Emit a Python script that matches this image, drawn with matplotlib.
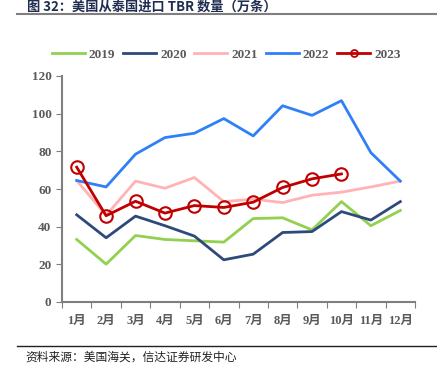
import matplotlib
matplotlib.use("Agg")
import matplotlib.pyplot as plt
from matplotlib.lines import Line2D

# data
months = ["1月", "2月", "3月", "4月", "5月", "6月", "7月", "8月", "9月", "10月", "11月", "12月"]
v2019 = [33.2, 20.1, 35.3, 33.2, 32.5, 31.8, 44.3, 44.7, 38.3, 53.3, 40.5, 48.6]
v2020 = [46.3, 34.1, 45.6, 40.5, 35.0, 22.4, 25.4, 36.9, 37.4, 48.0, 43.5, 53.3]
v2021 = [64.5, 46.0, 64.2, 60.4, 66.1, 53.3, 54.6, 52.8, 56.7, 58.3, 61.1, 64.2]
v2022 = [64.5, 61.1, 78.5, 87.3, 89.6, 97.4, 88.2, 104.2, 99.1, 106.9, 79.3, 64.2]
v2023 = [71.6, 45.8, 53.5, 47.2, 51.2, 50.2, 53.0, 60.8, 65.4, 68.0]

serif = ["Liberation Serif", "Noto Sans CJK SC"]
grey = "#595959"
colors = {"2019": "#92D050", "2020": "#2E4A7A", "2021": "#FFB3B5", "2022": "#2F80F8", "2023": "#C00000"}

fig = plt.figure(figsize=(4.37, 3.82), dpi=100)
ax = fig.add_axes([62 / 437, 1 - 302 / 382, (415 - 62) / 437, (302 - 76) / 382])

x = list(range(12))
ax.plot(x, v2019, color=colors["2019"], lw=2)
ax.plot(x, v2020, color=colors["2020"], lw=2)
ax.plot(x, v2021, color=colors["2021"], lw=2)
ax.plot(x, v2022, color=colors["2022"], lw=2)
ax.plot(range(len(v2023)), v2023, color=colors["2023"], lw=2, marker="o", ms=9,
        mfc="none", mec=colors["2023"], mew=1.5)

ax.set_xlim(-0.5, 11.5)
ax.set_ylim(0, 120)
ax.set_yticks(range(0, 121, 20))
ax.set_xticks([i - 0.5 for i in range(13)])
ax.set_xticklabels([])
ax.set_xticks(x, minor=True)
ax.set_xticklabels(months, minor=True, family=serif, fontweight="bold", color=grey, fontsize=9)
ax.tick_params(axis="x", which="minor", length=0, pad=9)
ax.tick_params(axis="x", which="major", length=4, color="#7f7f7f", direction="out")
ax.tick_params(axis="y", length=4, color="#7f7f7f", direction="out")
for lab in ax.get_yticklabels():
    lab.set_family(serif)
    lab.set_fontweight("bold")
    lab.set_color(grey)
    lab.set_fontsize(9.5)

for s in ["top", "right"]:
    ax.spines[s].set_visible(False)
for s in ["left", "bottom"]:
    ax.spines[s].set_color("#7f7f7f")
    ax.spines[s].set_linewidth(1.5)

handles = []
for k in ["2019", "2020", "2021", "2022"]:
    handles.append(Line2D([], [], color=colors[k], lw=2, label=k))
handles.append(Line2D([], [], color=colors["2023"], lw=2, marker="o", ms=5,
                      mfc="none", mec=colors["2023"], mew=1.3, label="2023"))
leg = ax.legend(handles=handles, loc="center", bbox_to_anchor=(0.465, 1.095), ncol=5,
                frameon=False, handlelength=2.5, columnspacing=0.6, handletextpad=0.3,
                borderpad=0, prop={"family": serif, "weight": "bold", "size": 9.5})
for t in leg.get_texts():
    t.set_color(grey)

# title and source
fig.text(27 / 437, 1.0, "图 32：美国从泰国进口 TBR 数量（万条）", fontsize=9.5,
         fontweight="bold", color="#1F2D50", va="top", ha="left",
         family=["Noto Sans CJK SC", "DejaVu Sans"])
fig.add_artist(Line2D([17 / 437, 1], [1 - 13.5 / 382, 1 - 13.5 / 382], color="#7f7f7f", lw=1.5))
fig.add_artist(Line2D([17 / 437, 1], [1 - 346 / 382, 1 - 346 / 382], color="#222222", lw=1))
fig.text(25 / 437, 1 - 357 / 382, "资料来源：美国海关，信达证券研发中心", fontsize=8.5,
         style="italic", color="#222222", va="center", ha="left",
         family=["Noto Sans CJK SC", "DejaVu Sans"])

fig.savefig("out.png", dpi=100)
